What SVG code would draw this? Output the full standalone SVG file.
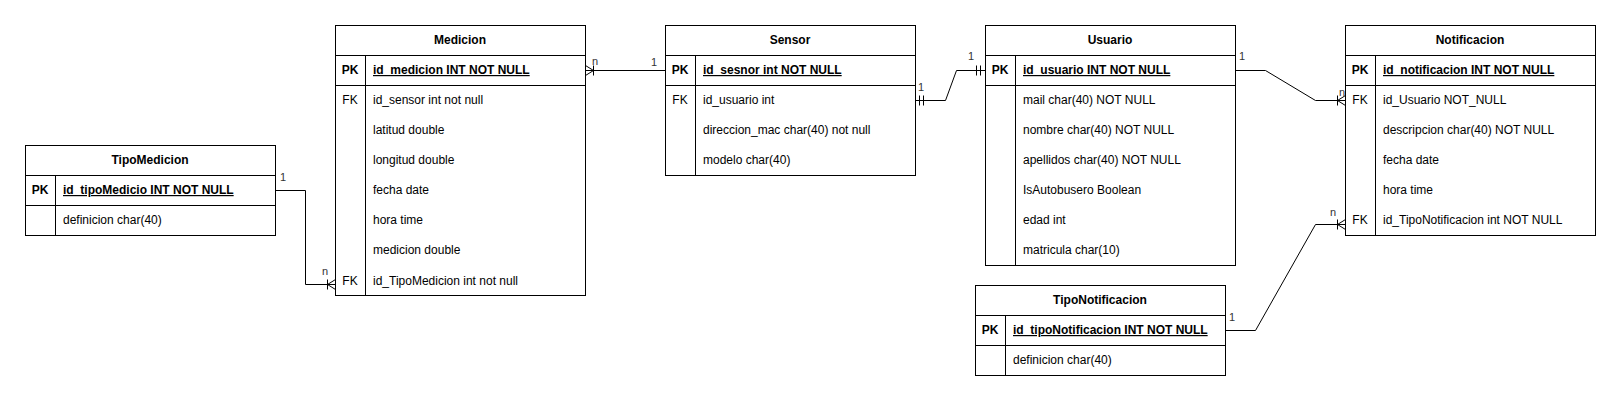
<svg xmlns="http://www.w3.org/2000/svg" width="1621" height="402" viewBox="0 0 1621 402">
<style>
  .box { fill: #ffffff; stroke: #000000; stroke-width: 1; }
  .ln { fill: none; stroke: #000000; stroke-width: 1; }
  .title { font-family: "Liberation Sans", Arial, sans-serif; font-size: 12px; font-weight: bold; fill: #000; text-anchor: middle; }
  .key { font-family: "Liberation Sans", Arial, sans-serif; font-size: 12px; fill: #000; text-anchor: middle; }
  .pk { font-weight: bold; }
  .fld { font-family: "Liberation Sans", Arial, sans-serif; font-size: 12px; fill: #000; }
  .pkf { font-weight: bold; text-decoration: underline; }
  .lbl { font-family: "Liberation Sans", Arial, sans-serif; font-size: 11px; fill: #333; }
  .edge { fill: none; stroke: #000000; stroke-width: 1; }
</style>
<rect width="1621" height="402" fill="#ffffff"/>

<g id="TipoMedicion">
  <rect class="box" x="25.5" y="145.5" width="250" height="90"/>
  <path class="ln" d="M25.5 175.5H275.5M25.5 205.5H275.5M55.5 175.5V235.5"/>
  <text class="title" x="150" y="164">TipoMedicion</text>
  <text class="key pk" x="40" y="194">PK</text>
  <text class="fld pkf" x="63" y="194">id_tipoMedicio INT NOT NULL</text>
  <text class="fld" x="63" y="224">definicion char(40)</text>
</g>

<g id="Medicion">
  <rect class="box" x="335.5" y="25.5" width="250" height="270"/>
  <path class="ln" d="M335.5 55.5H585.5M335.5 85.5H585.5M365.5 55.5V295.5"/>
  <text class="title" x="460" y="44">Medicion</text>
  <text class="key pk" x="350" y="74">PK</text>
  <text class="fld pkf" x="373" y="74">id_medicion INT NOT NULL</text>
  <text class="key" x="350" y="104">FK</text>
  <text class="fld" x="373" y="104">id_sensor int not null</text>
  <text class="fld" x="373" y="134">latitud double</text>
  <text class="fld" x="373" y="164">longitud double</text>
  <text class="fld" x="373" y="194">fecha date</text>
  <text class="fld" x="373" y="224">hora time</text>
  <text class="fld" x="373" y="254">medicion double</text>
  <text class="key" x="350" y="285">FK</text>
  <text class="fld" x="373" y="285">id_TipoMedicion int not null</text>
</g>

<g id="Sensor">
  <rect class="box" x="665.5" y="25.5" width="250" height="150"/>
  <path class="ln" d="M665.5 55.5H915.5M665.5 85.5H915.5M695.5 55.5V175.5"/>
  <text class="title" x="790" y="44">Sensor</text>
  <text class="key pk" x="680" y="74">PK</text>
  <text class="fld pkf" x="703" y="74">id_sesnor int NOT NULL</text>
  <text class="key" x="680" y="104">FK</text>
  <text class="fld" x="703" y="104">id_usuario int</text>
  <text class="fld" x="703" y="134">direccion_mac char(40) not null</text>
  <text class="fld" x="703" y="164">modelo char(40)</text>
</g>

<g id="Usuario">
  <rect class="box" x="985.5" y="25.5" width="250" height="240"/>
  <path class="ln" d="M985.5 55.5H1235.5M985.5 85.5H1235.5M1015.5 55.5V265.5"/>
  <text class="title" x="1110" y="44">Usuario</text>
  <text class="key pk" x="1000" y="74">PK</text>
  <text class="fld pkf" x="1023" y="74">id_usuario INT NOT NULL</text>
  <text class="fld" x="1023" y="104">mail char(40) NOT NULL</text>
  <text class="fld" x="1023" y="134">nombre char(40) NOT NULL</text>
  <text class="fld" x="1023" y="164">apellidos char(40) NOT NULL</text>
  <text class="fld" x="1023" y="194">IsAutobusero Boolean</text>
  <text class="fld" x="1023" y="224">edad int</text>
  <text class="fld" x="1023" y="254">matricula char(10)</text>
</g>

<g id="Notificacion">
  <rect class="box" x="1345.5" y="25.5" width="250" height="210"/>
  <path class="ln" d="M1345.5 55.5H1595.5M1345.5 85.5H1595.5M1375.5 55.5V235.5"/>
  <text class="title" x="1470" y="44">Notificacion</text>
  <text class="key pk" x="1360" y="74">PK</text>
  <text class="fld pkf" x="1383" y="74">id_notificacion INT NOT NULL</text>
  <text class="key" x="1360" y="104">FK</text>
  <text class="fld" x="1383" y="104">id_Usuario NOT_NULL</text>
  <text class="fld" x="1383" y="134">descripcion char(40) NOT NULL</text>
  <text class="fld" x="1383" y="164">fecha date</text>
  <text class="fld" x="1383" y="194">hora time</text>
  <text class="key" x="1360" y="224">FK</text>
  <text class="fld" x="1383" y="224">id_TipoNotificacion int NOT NULL</text>
</g>

<g id="TipoNotificacion">
  <rect class="box" x="975.5" y="285.5" width="250" height="90"/>
  <path class="ln" d="M975.5 315.5H1225.5M975.5 345.5H1225.5M1005.5 315.5V375.5"/>
  <text class="title" x="1100" y="304">TipoNotificacion</text>
  <text class="key pk" x="990" y="334">PK</text>
  <text class="fld pkf" x="1013" y="334">id_tipoNotificacion INT NOT NULL</text>
  <text class="fld" x="1013" y="364">definicion char(40)</text>
</g>

<g id="connectors">
  <!-- TipoMedicion 1 - n Medicion -->
  <path class="edge" d="M275.5 190.5H305.5V284.5H335.5"/>
  <path class="edge" d="M327.5 279.5V289.5M327.5 284.5L335.5 279.5M327.5 284.5L335.5 289.5"/>
  <text class="lbl" x="280" y="181">1</text>
  <text class="lbl" x="322" y="275">n</text>

  <!-- Medicion n - 1 Sensor -->
  <path class="edge" d="M585.5 70.5H665.5"/>
  <path class="edge" d="M593.5 65.5V75.5M585.5 65.5L593.5 70.5M585.5 75.5L593.5 70.5"/>
  <text class="lbl" x="592" y="65">n</text>
  <text class="lbl" x="651" y="66">1</text>

  <!-- Sensor 1 - 1 Usuario -->
  <path class="edge" d="M915.5 100.5H945.5L956.5 70.5H985.5"/>
  <path class="edge" d="M919.5 95.5V105.5M923.5 95.5V105.5M976.5 65.5V75.5M980.5 65.5V75.5"/>
  <text class="lbl" x="918" y="91">1</text>
  <text class="lbl" x="968" y="60">1</text>

  <!-- Usuario 1 - n Notificacion -->
  <path class="edge" d="M1235.5 70.5H1265.5L1315.5 100.5H1345.5"/>
  <path class="edge" d="M1337.5 95.5V105.5M1337.5 100.5L1345.5 95.5M1337.5 100.5L1345.5 105.5"/>
  <text class="lbl" x="1239" y="60">1</text>
  <text class="lbl" x="1339" y="96">n</text>

  <!-- TipoNotificacion 1 - n Notificacion -->
  <path class="edge" d="M1225.5 330.5H1255.5L1315.5 224.5H1345.5"/>
  <path class="edge" d="M1337.5 219.5V229.5M1337.5 224.5L1345.5 219.5M1337.5 224.5L1345.5 229.5"/>
  <text class="lbl" x="1229" y="321">1</text>
  <text class="lbl" x="1330" y="216">n</text>
</g>
</svg>
